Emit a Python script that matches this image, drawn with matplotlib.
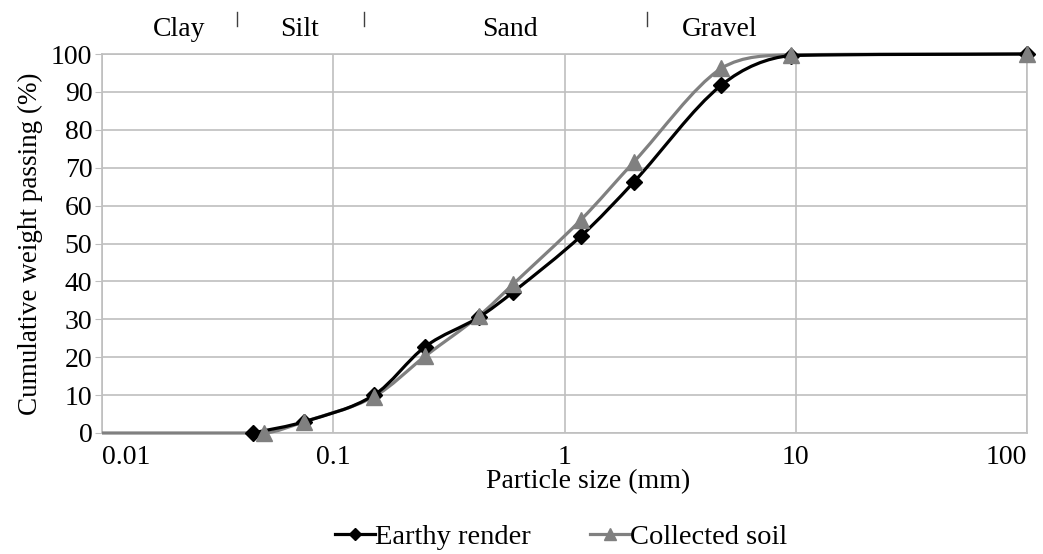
import matplotlib.pyplot as plt
import numpy as np
from matplotlib.path import Path
from matplotlib.patches import PathPatch
from matplotlib.lines import Line2D

plt.rcParams['font.family'] = ['Liberation Serif', 'DejaVu Serif']

# sieve sizes (mm) and cumulative passing (%)
earthy_size = [0.045, 0.075, 0.15, 0.25, 0.425, 0.6, 1.18, 2, 4.75, 9.5, 100]
earthy_pass = [0, 3, 10, 22.8, 30.5, 37.2, 52, 66.3, 91.7, 99.6, 100]

soil_size = [0.01, 0.05, 0.075, 0.15, 0.25, 0.425, 0.6, 1.18, 2, 4.75, 9.5, 100]
soil_pass = [0, 0, 3, 9.6, 20.3, 30.8, 39.3, 56.3, 71.6, 96.2, 99.8, 100]

x_ticks = [0.01, 0.1, 1, 10, 100]
x_tick_labels = ['0.01', '0.1', '1', '10', '100']
y_ticks = list(range(0, 101, 10))

zones = ['Clay', 'Silt', 'Sand', 'Gravel']


def smooth_path(xs, ys):
    # smoothed line like a spreadsheet chart: bezier segments in log-x space,
    # control points kept inside each segment so the curve does not overshoot
    lx = np.log10(xs)
    y = np.asarray(ys, dtype=float)
    n = len(lx)
    slope = np.zeros(n)
    for i in range(n):
        i0 = max(i - 1, 0)
        i1 = min(i + 1, n - 1)
        slope[i] = (y[i1] - y[i0]) / (lx[i1] - lx[i0])
    verts = [(xs[0], y[0])]
    codes = [Path.MOVETO]
    for i in range(n - 1):
        dx = (lx[i + 1] - lx[i]) / 3
        lo, hi = min(y[i], y[i + 1]), max(y[i], y[i + 1])
        c1y = np.clip(y[i] + slope[i] * dx, lo, hi)
        c2y = np.clip(y[i + 1] - slope[i + 1] * dx, lo, hi)
        verts += [(10 ** (lx[i] + dx), c1y), (10 ** (lx[i + 1] - dx), c2y), (xs[i + 1], y[i + 1])]
        codes += [Path.CURVE4] * 3
    return Path(verts, codes)


fig = plt.figure(figsize=(10.43, 5.54), dpi=100)
ax = fig.add_axes([102 / 1043, 1 - 433 / 554, 925 / 1043, 379 / 554])
ax.set_xscale('log')
ax.set_xlim(0.01, 100)
ax.set_ylim(0, 100)

grid_c = '#bfbfbf'
ax.grid(True, which='major', color=grid_c, lw=1.2)
ax.minorticks_off()
for s in ax.spines.values():
    s.set_color(grid_c)
    s.set_linewidth(1.2)
ax.set_axisbelow(True)

black = '#000000'
gray = '#808080'

ax.add_patch(PathPatch(smooth_path(soil_size, soil_pass), fc='none', ec=gray, lw=2.3, zorder=3, clip_on=False))
ax.add_patch(PathPatch(smooth_path(earthy_size, earthy_pass), fc='none', ec=black, lw=2.3, zorder=4, clip_on=False))
ax.plot(soil_size[1:], soil_pass[1:], ls='none', marker='^', ms=11, color=gray, zorder=5, clip_on=False)
ax.plot(earthy_size, earthy_pass, ls='none', marker='D', ms=8, color=black, zorder=4, clip_on=False)

ax.set_xticks(x_ticks)
ax.set_xticklabels(x_tick_labels)
ax.set_yticks(y_ticks)
ax.tick_params(axis='x', length=0, pad=9, labelsize=20)
ax.tick_params(axis='y', length=5, color=grid_c, pad=2, labelsize=20)
xl = ax.get_xticklabels()
xl[0].set_ha('left')
xl[-1].set_ha('right')
ax.set_xlabel('Particle size (mm)', fontsize=20, labelpad=0)
ax.xaxis.set_label_coords((588 - 102) / 925, -0.095)
ax.set_ylabel('Cumulative weight passing (%)', fontsize=19.5, labelpad=6)

# soil class labels above the plot
zone_x = [179, 300, 510, 720]
for name, xp in zip(zones, zone_x):
    fig.text(xp / 1043, 1 - 29 / 554, name, ha='center', va='center', fontsize=20)
for xp in [237, 364, 647]:
    fig.add_artist(Line2D([xp / 1043, xp / 1043], [1 - 12 / 554, 1 - 26 / 554], color='#404040', lw=1))

handles = [
    Line2D([], [], color=black, lw=2.3, marker='D', ms=6),
    Line2D([], [], color=gray, lw=2.3, marker='^', ms=8),
]
fig.legend(handles, ['Earthy render', 'Collected soil'], loc='center', bbox_to_anchor=(561 / 1043, 1 - 537 / 554),
           ncol=2, frameon=False, fontsize=20.5, handlelength=1.4, handletextpad=0.0, columnspacing=2.1)

fig.savefig('out.png', dpi=100)
